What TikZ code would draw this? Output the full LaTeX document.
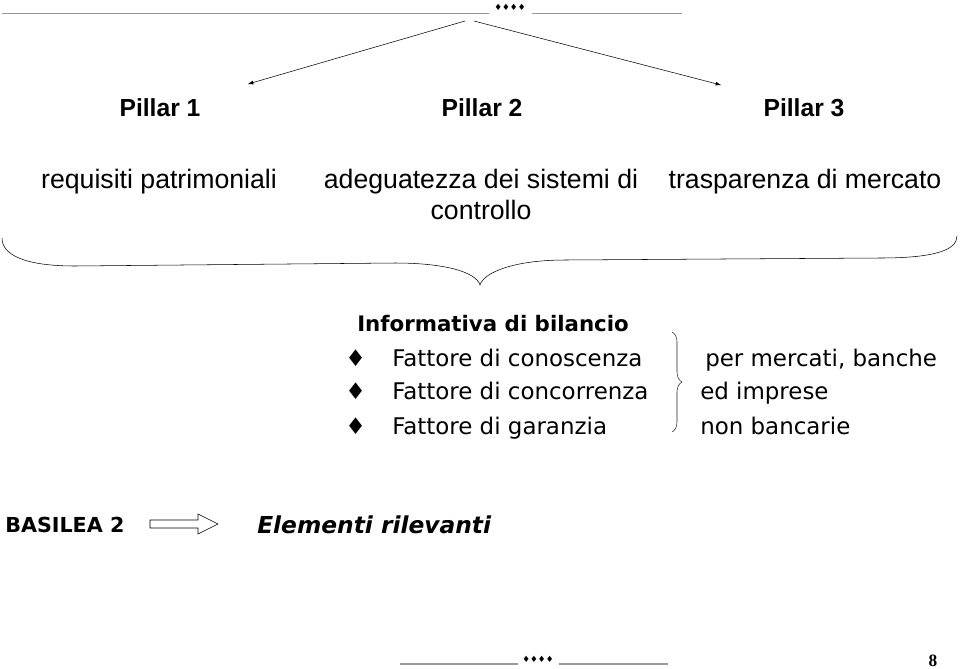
\documentclass[tikz,border=0pt]{standalone}
\usepackage{fontspec}
\setmainfont{Liberation Sans}
\newfontfamily\comic{DejaVu Sans}
\newfontfamily\numfont{Liberation Serif}
\usetikzlibrary{decorations.pathreplacing}

\begin{document}
\begin{tikzpicture}[x=0.75pt,y=-0.75pt,
  every node/.style={inner sep=0pt},
  rule/.style={gray!80,line width=0.8pt},
  pillar/.style={anchor=base,font=\fontsize{18.5}{22}\selectfont\bfseries},
  aim/.style={anchor=base,font=\fontsize{20}{23}\selectfont},
  info/.style={anchor=base west,font=\comic\fontsize{17.2}{20}\selectfont}]
\useasboundingbox (0,0) rectangle (960,668);
% top rule with ornament
\draw[rule] (2,13.5) -- (489,13.5) (532,13.5) -- (682,13.5);
\node (orn) at (510,7) {\comic\fontsize{6.5}{7}\selectfont ♦♦♦♦};
% the three pillars
\coordinate (l0) at (465,21);
\coordinate (r0) at (474,21);
\coordinate (l1) at (248,84);
\coordinate (r1) at (721,85);
\draw[-latex,thin] (l0) -- (l1);
\draw[-latex,thin] (r0) -- (r1);
\node[pillar] (p1) at (160,116) {Pillar 1};
\node[pillar] (p2) at (482,116) {Pillar 2};
\node[pillar] (p3) at (804,116) {Pillar 3};
\node[aim] (a1) at (159,188) {requisiti patrimoniali};
\node[aim] (a2) at (481,188) {adeguatezza dei sistemi di};
\node[aim] (a2b) at (481,219) {controllo};
\node[aim] (a3) at (805,188) {trasparenza di mercato};
% big brace
\draw[thin] (2,238) .. controls (2,255) and (25,266) .. (75,266) -- (395,263)
  .. controls (445,263) and (476,272) .. (480,285)
  .. controls (484,272) and (515,260) .. (565,260) -- (880,258)
  .. controls (935,258) and (957,250) .. (957,236);
% informativa
\node[info,font=\comic\fontsize{16}{20}\selectfont\bfseries] (inf) at (357,331) {Informativa di bilancio};
\foreach \n/\y/\t in {1/366/Fattore di conoscenza,2/399/Fattore di concorrenza,3/434/Fattore di garanzia}{
  \node[info] (b\n) at (345,\y) {♦};
  \node[info] (f\n) at (392,\y) {\t};
}
\draw[thin,gray!30!black,decorate,decoration={brace,amplitude=7.5pt}] (672,332) -- (672,432);
\node[info] (m1) at (705,366) {per mercati, banche};
\node[info] (m2) at (700,399) {ed imprese};
\node[info] (m3) at (700,434) {non bancarie};
% bottom line
\node[info,font=\comic\fontsize{15.5}{18}\selectfont\bfseries] (bas) at (5,532) {BASILEA 2};
\draw[thin] (150,520) -- (198,520) -- (198,514) -- (218,524) -- (198,534) -- (198,528) -- (150,528) -- cycle;
\node[info,font=\comic\fontsize{17.5}{21}\selectfont\bfseries\itshape] (elem) at (257,533) {Elementi rilevanti};
% footer
\draw[rule] (400,664) -- (518,664) (559,664) -- (668,664);
\node (orn2) at (538,659) {\comic\fontsize{6.5}{7}\selectfont ♦♦♦♦};
\node[anchor=base] (pg) at (933,666) {\numfont\bfseries\fontsize{13}{15}\selectfont 8};
\end{tikzpicture}
\end{document}
